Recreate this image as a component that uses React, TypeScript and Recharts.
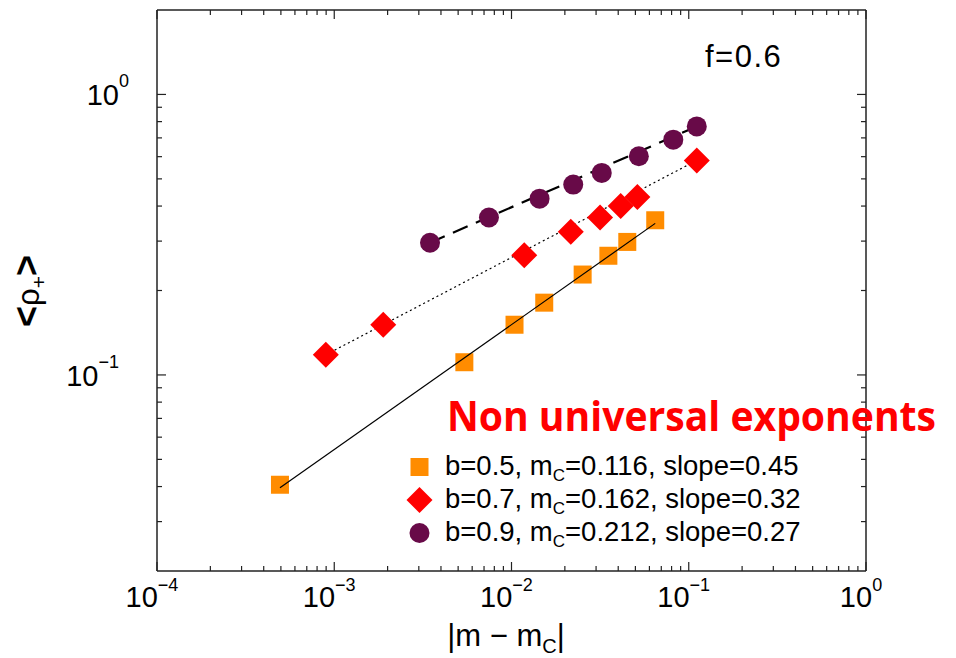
import React from 'react';
import { ScatterChart, Scatter, XAxis, YAxis, Legend } from 'recharts';

// axis decades + exponent labels
const X_MAJOR = [1e-4, 1e-3, 1e-2, 1e-1, 1];
const X_EXP = ['−4', '−3', '−2', '−1', '0'];
const Y_MAJOR = [1e-1, 1];
const Y_EXP = ['−1', '0'];
const MINOR_STEPS = [2, 3, 4, 5, 6, 7, 8, 9];

// b = 0.5 (orange squares)
const B05_X = [4.94e-4, 5.42e-3, 0.0104, 0.0153, 0.0252, 0.0352, 0.045, 0.0647];
const B05_Y = [0.0406, 0.111, 0.151, 0.181, 0.228, 0.266, 0.298, 0.356];
// b = 0.7 (red diamonds)
const B07_X = [8.96e-4, 1.89e-3, 0.0118, 0.0216, 0.0316, 0.0413, 0.0513, 0.111];
const B07_Y = [0.118, 0.151, 0.267, 0.324, 0.364, 0.4, 0.431, 0.582];
// b = 0.9 (purple circles)
const B09_X = [3.47e-3, 7.46e-3, 0.0144, 0.0223, 0.0323, 0.0523, 0.0818, 0.111];
const B09_Y = [0.296, 0.364, 0.425, 0.477, 0.525, 0.602, 0.69, 0.769];

// power-law fit segments (end points)
const FIT05_X = [4.94e-4, 0.0647];
const FIT05_Y = [0.0396, 0.347];
const FIT07_X = [8.96e-4, 0.111];
const FIT07_Y = [0.118, 0.582];
const FIT09_X = [3.47e-3, 0.111];
const FIT09_Y = [0.296, 0.769];

const LEGEND_LABELS = [
  ['b=0.5, m', '=0.116, slope=0.45'],
  ['b=0.7, m', '=0.162, slope=0.32'],
  ['b=0.9, m', '=0.212, slope=0.27'],
];

const ORANGE = '#FF8C00';
const RED = '#FF0000';
const PURPLE = '#680A48';
const FONT = '"Liberation Sans", Arial, Helvetica, sans-serif';

const zip = (xs: number[], ys: number[]) => xs.map((x, i) => ({ x, y: ys[i] }));

const xMinor = X_MAJOR.slice(0, -1).flatMap((d) => MINOR_STEPS.map((s) => s * d));
const X_TICKS = [...X_MAJOR, ...xMinor].sort((a, b) => a - b);
const yMinor = [0.01, 0.1].flatMap((d) => MINOR_STEPS.map((s) => s * d)).filter((v) => v > 0.021 && v < 1.9);
const Y_TICKS = [...Y_MAJOR, ...yMinor].sort((a, b) => a - b);

const majorIndex = (list: number[], v: number) =>
  list.findIndex((m) => Math.abs(Math.log10(m) - Math.log10(v)) < 1e-6);

const AXIS = '#222';

const BottomTick = ({ x, y, payload }: any) => {
  const i = majorIndex(X_MAJOR, payload.value);
  const len = i >= 0 ? 9 : 5;
  return (
    <g>
      <line x1={x} y1={y} x2={x} y2={y - len} stroke={AXIS} strokeWidth={1.2} />
      {i >= 0 && (
        <text x={x - 5} y={y + 36} textAnchor="middle" fontSize={29} fontFamily={FONT} fill="#000">
          10<tspan fontSize={18} dy={-16}>{X_EXP[i]}</tspan>
        </text>
      )}
    </g>
  );
};

const TopTick = ({ x, y, payload }: any) => {
  const len = majorIndex(X_MAJOR, payload.value) >= 0 ? 9 : 5;
  return <line x1={x} y1={y} x2={x} y2={y + len} stroke={AXIS} strokeWidth={1.2} />;
};

const LeftTick = ({ x, y, payload }: any) => {
  const i = majorIndex(Y_MAJOR, payload.value);
  const len = i >= 0 ? 9 : 5;
  const shift = i >= 0 && Y_EXP[i].startsWith('−') ? -10 : 0;
  return (
    <g>
      <line x1={x} y1={y} x2={x + len} y2={y} stroke={AXIS} strokeWidth={1.2} />
      {i >= 0 && (
        <text x={x - 28 + shift} y={y + 11} textAnchor="end" fontSize={29} fontFamily={FONT} fill="#000">
          10<tspan fontSize={18} dy={-18}>{Y_EXP[i]}</tspan>
        </text>
      )}
    </g>
  );
};

const RightTick = ({ x, y, payload }: any) => {
  const len = majorIndex(Y_MAJOR, payload.value) >= 0 ? 9 : 5;
  return <line x1={x} y1={y} x2={x - len} y2={y} stroke={AXIS} strokeWidth={1.2} />;
};

const Square = ({ cx, cy }: any) => <rect x={cx - 9} y={cy - 9} width={18} height={18} fill={ORANGE} />;
const Diamond = ({ cx, cy }: any) => (
  <polygon points={`${cx},${cy - 13} ${cx + 13},${cy} ${cx},${cy + 13} ${cx - 13},${cy}`} fill={RED} />
);
const Circle = ({ cx, cy }: any) => <circle cx={cx} cy={cy} r={10} fill={PURPLE} />;
const NoDot = () => <g />;

const LegendBox = () => {
  const markers = [
    (cx: number, cy: number) => <Square cx={cx} cy={cy} />,
    (cx: number, cy: number) => <Diamond cx={cx} cy={cy} />,
    (cx: number, cy: number) => <Circle cx={cx} cy={cy} />,
  ];
  return (
    <svg width={430} height={110}>
      {LEGEND_LABELS.map((lab, i) => {
        const cy = 19 + i * 33;
        return (
          <g key={i}>
            {markers[i](19.5, cy)}
            <text x={45} y={cy + 8} fontSize={27.5} fontFamily={FONT} fill="#000">
              {lab[0]}
              <tspan fontSize={17} dy={6}>C</tspan>
              <tspan dy={-6}>{lab[1]}</tspan>
            </text>
          </g>
        );
      })}
    </svg>
  );
};

export default function App() {
  return (
    <div style={{ position: 'absolute', left: 0, top: 0, width: 956, height: 658, background: '#fff' }}>
      <ScatterChart width={956} height={658} margin={{ top: 9, left: 156, right: 89, bottom: 86 }}>
        <XAxis
          xAxisId="b"
          dataKey="x"
          type="number"
          scale="log"
          domain={[1e-4, 1]}
          allowDataOverflow
          ticks={X_TICKS}
          interval={0}
          height={1}
          tickSize={0}
          tickMargin={0}
          tick={<BottomTick />}
          tickLine={false}
          axisLine={{ stroke: AXIS, strokeWidth: 1.5 }}
          orientation="bottom"
        />
        <XAxis
          xAxisId="t"
          dataKey="x"
          type="number"
          scale="log"
          domain={[1e-4, 1]}
          allowDataOverflow
          ticks={X_TICKS}
          interval={0}
          height={1}
          tickSize={0}
          tickMargin={0}
          tick={<TopTick />}
          tickLine={false}
          axisLine={{ stroke: AXIS, strokeWidth: 1.5 }}
          orientation="top"
        />
        <YAxis
          yAxisId="l"
          dataKey="y"
          type="number"
          scale="log"
          domain={[0.02, 2]}
          allowDataOverflow
          ticks={Y_TICKS}
          interval={0}
          width={1}
          tickSize={0}
          tickMargin={0}
          tick={<LeftTick />}
          tickLine={false}
          axisLine={{ stroke: AXIS, strokeWidth: 1.5 }}
          orientation="left"
        />
        <YAxis
          yAxisId="r"
          dataKey="y"
          type="number"
          scale="log"
          domain={[0.02, 2]}
          allowDataOverflow
          ticks={Y_TICKS}
          interval={0}
          width={1}
          tickSize={0}
          tickMargin={0}
          tick={<RightTick />}
          tickLine={false}
          axisLine={{ stroke: AXIS, strokeWidth: 1.5 }}
          orientation="right"
        />
        <Legend
          layout="horizontal"
          verticalAlign="middle"
          align="center"
          content={<LegendBox />}
          wrapperStyle={{ position: 'absolute', left: 400, top: 448, width: 430, height: 110 }}
        />
        <Scatter
          xAxisId="b"
          yAxisId="l"
          data={zip(FIT07_X, FIT07_Y)}
          shape={<NoDot />}
          line={{ stroke: '#000', strokeWidth: 1.2, strokeDasharray: '2 3' }}
          legendType="none"
          isAnimationActive={false}
        />
        <Scatter
          xAxisId="b"
          yAxisId="l"
          data={zip(FIT09_X, FIT09_Y)}
          shape={<NoDot />}
          line={{ stroke: '#000', strokeWidth: 2.2, strokeDasharray: '16 9' }}
          legendType="none"
          isAnimationActive={false}
        />
        <Scatter xAxisId="b" yAxisId="l" data={zip(B07_X, B07_Y)} shape={<Diamond />} isAnimationActive={false} />
        <Scatter xAxisId="b" yAxisId="l" data={zip(B09_X, B09_Y)} shape={<Circle />} isAnimationActive={false} />
        <Scatter xAxisId="b" yAxisId="l" data={zip(B05_X, B05_Y)} shape={<Square />} isAnimationActive={false} />
        <Scatter
          xAxisId="b"
          yAxisId="l"
          data={zip(FIT05_X, FIT05_Y)}
          shape={<NoDot />}
          line={{ stroke: '#000', strokeWidth: 1.2 }}
          legendType="none"
          isAnimationActive={false}
        />
      </ScatterChart>
      <svg width={956} height={658} style={{ position: 'absolute', left: 0, top: 0, pointerEvents: 'none' }}>
        <text x={705} y={67} fontSize={31} letterSpacing={1.5} fontFamily={FONT} fill="#000">f=0.6</text>
        <text
          x={447}
          y={431}
          fontSize={41}
          fontWeight={700}
          textLength={489}
          lengthAdjust="spacingAndGlyphs"
          fontFamily="'Open Sans', Lato, sans-serif"
          fill={RED}
        >
          Non universal exponents
        </text>
        <text x={506} y={646} textAnchor="middle" fontSize={31} fontFamily={FONT} fill="#000">
          |m − m<tspan fontSize={20} dy={7}>C</tspan><tspan dy={-7}>|</tspan>
        </text>
        <text transform="translate(39,291) rotate(-90)" textAnchor="middle" fontSize={31} fontFamily={FONT} fill="#000">
          <tspan fontSize={36} fontWeight={700}>&lt;</tspan>ρ<tspan fontSize={21} dy={7}>+</tspan>
          <tspan dy={-7} fontSize={36} fontWeight={700}>&gt;</tspan>
        </text>
      </svg>
    </div>
  );
}
